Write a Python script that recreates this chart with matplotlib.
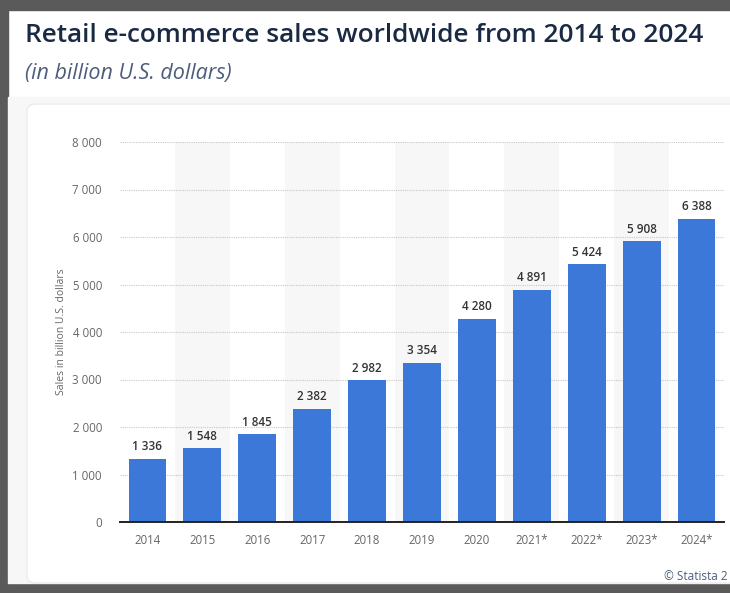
import matplotlib.pyplot as plt
from matplotlib.patches import Rectangle, FancyBboxPatch

years = ['2014', '2015', '2016', '2017', '2018', '2019', '2020',
         '2021*', '2022*', '2023*', '2024*']
sales = [1336, 1548, 1845, 2382, 2982, 3354, 4280, 4891, 5424, 5908, 6388]
yticks = [0, 1000, 2000, 3000, 4000, 5000, 6000, 7000, 8000]


def fmt(v):
    return f'{v:,}'.replace(',', ' ')


W, H = 730, 593
fig = plt.figure(figsize=(W / 100, H / 100), dpi=100)
fig.patch.set_facecolor('white')

# dark frame (top, left, bottom)
frame = '#5a5a5a'
fig.patches.append(Rectangle((0, 1 - 10 / H), 1, 10 / H, transform=fig.transFigure,
                             color=frame, zorder=-5))
fig.patches.append(Rectangle((0, 0), 8 / W, 1, transform=fig.transFigure,
                             color=frame, zorder=-5))
fig.patches.append(Rectangle((0, 0), 1, 10 / H, transform=fig.transFigure,
                             color=frame, zorder=-5))
# light band under title, then the white card
fig.patches.append(Rectangle((8 / W, 10 / H), 1, (H - 97 - 10) / H, transform=fig.transFigure,
                             color='#f7f7f7', zorder=-4))
fig.patches.append(FancyBboxPatch((27 / W, 10 / H), 1, (H - 104 - 10) / H,
                                  boxstyle='round,pad=0,rounding_size=0.012',
                                  transform=fig.transFigure, facecolor='white',
                                  edgecolor='#ececec', lw=1, zorder=-3))

fig.text(25 / W, 1 - 35 / H, 'Retail e-commerce sales worldwide from 2014 to 2024',
         fontsize=18.9, fontweight='semibold', family='Open Sans', color='#1b2a44',
         va='center', ha='left')
fig.text(25 / W, 1 - 73 / H, '(in billion U.S. dollars)', fontsize=15.5,
         style='italic', family='Open Sans', color='#4c5d7c', va='center', ha='left')

ax = fig.add_axes([120 / W, 1 - 522 / H, 604 / W, 380 / H])
ax.set_facecolor('none')
x = list(range(len(years)))

for i in x:
    if i % 2 == 1:
        ax.axvspan(i - 0.5, i + 0.5, color='#f7f7f7', zorder=0, lw=0)

ax.bar(x, sales, width=0.69, color='#3b78d8', zorder=3)
for i, v in zip(x, sales):
    ax.text(i, v + 120, fmt(v), ha='center', va='bottom', fontsize=8.5,
            fontweight='semibold', family='Open Sans', color='#333333', zorder=4)

ax.set_xlim(-0.5, len(years) - 0.5)
ax.set_ylim(0, 8000)
ax.set_yticks(yticks)
ax.set_yticklabels([fmt(t) for t in yticks])
ax.set_xticks(x)
ax.set_xticklabels(years)
ax.grid(axis='y', linestyle=(0, (1, 1)), color='#c8c8c8', lw=0.8, zorder=1)
for s in ['top', 'right', 'left']:
    ax.spines[s].set_visible(False)
ax.spines['bottom'].set_color('#222222')
ax.spines['bottom'].set_linewidth(1.4)
ax.spines['bottom'].set_zorder(5)
ax.tick_params(axis='both', length=0, labelsize=8.3, labelcolor='#666666')
ax.tick_params(axis='y', pad=13)
ax.tick_params(axis='x', pad=9)
for lab in ax.get_xticklabels() + ax.get_yticklabels():
    lab.set_family('Open Sans')
ax.set_ylabel('Sales in billion U.S. dollars', fontsize=7.5, color='#666666',
              family='Open Sans', labelpad=4)

fig.text(664 / W, 1 - 577 / H, '\u00a9 Statista 2', fontsize=8.5, family='Open Sans',
         color='#4c5d7c', va='center', ha='left')

fig.savefig('out.png', dpi=100)
